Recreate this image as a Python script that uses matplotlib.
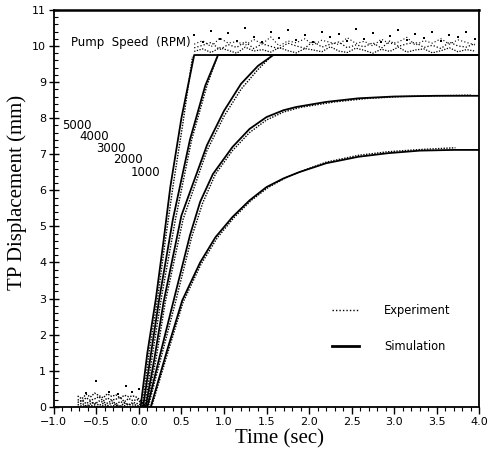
import numpy as np
import matplotlib
matplotlib.use('Agg')
import matplotlib.pyplot as plt
from matplotlib.lines import Line2D

# simulation curves (time in s, displacement in mm)
sim_5000_t = [0.02, 0.10, 0.20, 0.29, 0.37, 0.50, 0.65, 4.0]
sim_5000_y = [0.0, 1.5, 3.0, 4.6, 6.1, 8.0, 9.75, 9.75]
sim_4000_t = [0.05, 0.15, 0.24, 0.40, 0.60, 0.78, 0.93, 4.0]
sim_4000_y = [0.0, 1.6, 3.0, 5.2, 7.4, 8.9, 9.75, 9.75]
sim_3000_t = [0.08, 0.18, 0.29, 0.50, 0.80, 1.00, 1.20, 1.40, 1.58, 4.0]
sim_3000_y = [0.0, 1.3, 2.9, 5.3, 7.25, 8.2, 8.95, 9.45, 9.75, 9.75]
sim_2000_t = [0.10, 0.25, 0.41, 0.60, 0.72, 0.87, 1.10, 1.30, 1.50, 1.70, 1.85, 2.20, 2.58, 3.00, 3.50, 4.0]
sim_2000_y = [0.0, 1.45, 2.96, 4.75, 5.68, 6.45, 7.2, 7.7, 8.03, 8.22, 8.31, 8.45, 8.55, 8.6, 8.62, 8.62]
sim_1000_t = [0.14, 0.33, 0.51, 0.72, 0.90, 1.10, 1.30, 1.50, 1.70, 1.88, 2.20, 2.58, 2.93, 3.30, 3.70, 4.0]
sim_1000_y = [0.0, 1.55, 2.95, 4.0, 4.7, 5.26, 5.72, 6.09, 6.33, 6.5, 6.75, 6.93, 7.03, 7.1, 7.12, 7.12]

# experiments
exp_5000_t = [0.04, 0.12, 0.22, 0.31, 0.40, 0.52, 0.63]
exp_5000_y = [0.0, 1.5, 3.0, 4.6, 6.1, 7.9, 9.7]
exp_4000_t = [0.07, 0.17, 0.27, 0.43, 0.62, 0.80, 0.92]
exp_4000_y = [0.0, 1.6, 3.1, 5.2, 7.4, 8.9, 9.7]
exp_3000_t = [0.09, 0.20, 0.31, 0.52, 0.80, 1.00, 1.20, 1.40, 1.55]
exp_3000_y = [0.0, 1.3, 2.9, 5.2, 7.1, 8.05, 8.8, 9.35, 9.7]
exp_2000_t = [0.11, 0.27, 0.43, 0.62, 0.75, 0.90, 1.10, 1.30, 1.50, 1.70, 1.90, 2.30, 2.70, 3.10, 3.50, 3.90]
exp_2000_y = [0.0, 1.45, 2.9, 4.7, 5.65, 6.45, 7.1, 7.6, 7.95, 8.17, 8.3, 8.45, 8.55, 8.6, 8.62, 8.64]
exp_1000_t = [0.15, 0.34, 0.52, 0.73, 0.92, 1.12, 1.32, 1.52, 1.72, 1.90, 2.20, 2.58, 2.93, 3.30, 3.72]
exp_1000_y = [0.0, 1.5, 2.9, 3.95, 4.68, 5.25, 5.72, 6.08, 6.34, 6.52, 6.78, 6.97, 7.07, 7.13, 7.18]

# pre-trigger readings
pre_t = [-0.72, -0.67, -0.62, -0.57, -0.52, -0.47, -0.42, -0.37, -0.32, -0.27, -0.22, -0.17, -0.12, -0.07, -0.02, 0.03]
pre_5000 = [0.05, 0.10, 0.02, 0.08, 0.12, 0.04, 0.09, 0.03, 0.11, 0.06, 0.02, 0.10, 0.05, 0.08, 0.03, 0.02]
pre_4000 = [0.20, 0.15, 0.25, 0.18, 0.22, 0.28, 0.16, 0.24, 0.19, 0.21, 0.26, 0.14, 0.23, 0.17, 0.20, 0.10]
pre_3000 = [0.30, 0.22, 0.35, 0.27, 0.38, 0.31, 0.25, 0.36, 0.29, 0.33, 0.24, 0.32, 0.28, 0.30, 0.26, 0.15]
pre_2000 = [0.12, 0.18, 0.09, 0.15, 0.07, 0.16, 0.13, 0.10, 0.17, 0.08, 0.14, 0.11, 0.06, 0.12, 0.09, 0.05]
pre_1000 = [0.00, 0.03, 0.01, 0.04, 0.02, 0.00, 0.03, 0.01, 0.02, 0.04, 0.01, 0.03, 0.00, 0.02, 0.01, 0.00]
out_t = [-0.50, -0.15, -0.08, 0.00, -0.62, -0.35, -0.25]
out_y = [0.72, 0.58, 0.40, 0.50, 0.38, 0.42, 0.36]

# saturated readings above 9.75
plat_t = [0.65, 0.75, 0.85, 0.95, 1.05, 1.15, 1.25, 1.35, 1.45, 1.55, 1.65, 1.75, 1.85, 1.95, 2.05, 2.15, 2.25,
          2.35, 2.45, 2.55, 2.65, 2.75, 2.85, 2.95, 3.05, 3.15, 3.25, 3.35, 3.45, 3.55, 3.65, 3.75, 3.85, 3.95]
plat_a = [9.85, 9.92, 9.82, 9.95, 9.88, 9.80, 9.97, 9.86, 9.90, 9.83, 9.96, 9.87, 9.81, 9.93, 9.89, 9.84, 9.98,
          9.86, 9.82, 9.94, 9.88, 9.80, 9.91, 9.85, 9.97, 9.83, 9.89, 9.92, 9.81, 9.87, 9.95, 9.84, 9.90, 9.86]
plat_b = [10.05, 10.15, 9.98, 10.22, 10.08, 10.12, 10.02, 10.18, 10.06, 10.25, 10.00, 10.14, 10.09, 10.20, 10.03, 10.16, 10.10,
          10.04, 10.23, 10.07, 10.13, 10.00, 10.19, 10.06, 10.11, 10.24, 10.02, 10.15, 10.08, 10.20, 10.05, 10.17, 10.10, 10.03]
plat_c = [10.30, 10.12, 10.42, 10.20, 10.35, 10.15, 10.50, 10.25, 10.10, 10.38, 10.22, 10.45, 10.18, 10.30, 10.12, 10.40, 10.25,
          10.33, 10.15, 10.48, 10.20, 10.36, 10.12, 10.28, 10.44, 10.18, 10.32, 10.22, 10.40, 10.15, 10.30, 10.26, 10.38, 10.20]
plat_d = [9.95, 10.02, 10.10, 9.90, 10.04, 9.96, 10.12, 9.93, 10.06, 9.99, 9.92, 10.08, 10.00, 9.94, 10.13, 9.97, 10.05,
          10.11, 9.95, 10.03, 9.98, 10.09, 9.94, 10.14, 9.99, 10.06, 10.10, 9.96, 10.02, 9.93, 10.11, 10.00, 9.97, 10.07]

speeds = ['5000', '4000', '3000', '2000', '1000']

fig = plt.figure(figsize=(4.89, 4.51), dpi=100)
ax = fig.add_axes([0.110, 0.098, 0.870, 0.880])

sims = [(sim_5000_t, sim_5000_y), (sim_4000_t, sim_4000_y), (sim_3000_t, sim_3000_y),
        (sim_2000_t, sim_2000_y), (sim_1000_t, sim_1000_y)]
exps = [(exp_5000_t, exp_5000_y), (exp_4000_t, exp_4000_y), (exp_3000_t, exp_3000_y),
        (exp_2000_t, exp_2000_y), (exp_1000_t, exp_1000_y)]
pres = [pre_5000, pre_4000, pre_3000, pre_2000, pre_1000]

for (st, sy), (et, ey), py in zip(sims, exps, pres):
    ax.plot(st, sy, color='black', lw=1.3)
    ax.plot(list(pre_t) + list(et), list(py) + list(ey), color='black', lw=1.0, ls=(0, (1, 1.0)))

ax.scatter(out_t, out_y, s=4, color='black', marker='s', lw=0)
ax.plot(plat_t, plat_a, color='black', lw=0.9, ls=(0, (1, 1.2)))
ax.plot(plat_t, plat_d, color='black', lw=0.9, ls=(0, (1, 1.6)))
ax.plot(plat_t, plat_b, color='black', lw=0.8, ls=(0, (1, 2)))
ax.scatter(plat_t, plat_c, s=4, color='black', marker='s', lw=0)

# labels inside the plot
ax.text(-0.8, 10.1, 'Pump  Speed  (RPM)', fontsize=8.5, family='DejaVu Sans', va='center')
lab_x = [-0.90, -0.70, -0.50, -0.30, -0.10]
lab_y = [7.8, 7.5, 7.17, 6.85, 6.5]
for s, lx, ly in zip(speeds, lab_x, lab_y):
    ax.text(lx, ly, s, fontsize=8.5, family='DejaVu Sans', va='center')

handles = [Line2D([], [], color='black', lw=1.0, ls=(0, (1, 1.5))),
           Line2D([], [], color='black', lw=2.0)]
ax.legend(handles, ['Experiment', 'Simulation'], loc='upper left', bbox_to_anchor=(0.63, 0.285),
          frameon=False, fontsize=8.3, labelspacing=2.0, handlelength=2.3, handletextpad=2.2)

ax.set_xlim(-1.0, 4.0)
ax.set_ylim(0, 11)
ax.set_xticks([-1.0, -0.5, 0.0, 0.5, 1.0, 1.5, 2.0, 2.5, 3.0, 3.5, 4.0])
ax.set_xticklabels(['\u22121.0', '\u22120.5', '0.0', '0.5', '1.0', '1.5', '2.0', '2.5', '3.0', '3.5', '4.0'])
ax.set_xticks(np.arange(-1.0, 4.01, 0.1), minor=True)
ax.set_yticks(range(0, 12))
ax.set_yticks(np.arange(0, 11.01, 0.2), minor=True)
ax.tick_params(axis='x', which='major', direction='out', length=5, width=1, labelsize=8, pad=2)
ax.tick_params(axis='x', which='minor', direction='out', length=3, width=0.8)
ax.tick_params(axis='y', which='major', direction='inout', length=7, width=1, labelsize=8, pad=2)
ax.tick_params(axis='y', which='minor', direction='in', length=3, width=0.8)
for lab in ax.get_xticklabels() + ax.get_yticklabels():
    lab.set_family('DejaVu Sans')

for sp in ax.spines.values():
    sp.set_linewidth(1.3)
ax.spines['top'].set_linewidth(1.8)

ax.set_xlabel('Time (sec)', fontsize=15, family='Liberation Serif')
ax.xaxis.set_label_coords(0.53, -0.056)
ax.set_ylabel('TP Displacement (mm)', fontsize=15, family='Liberation Serif')
ax.yaxis.set_label_coords(-0.062, 0.54)

fig.savefig('out.png', dpi=100)
